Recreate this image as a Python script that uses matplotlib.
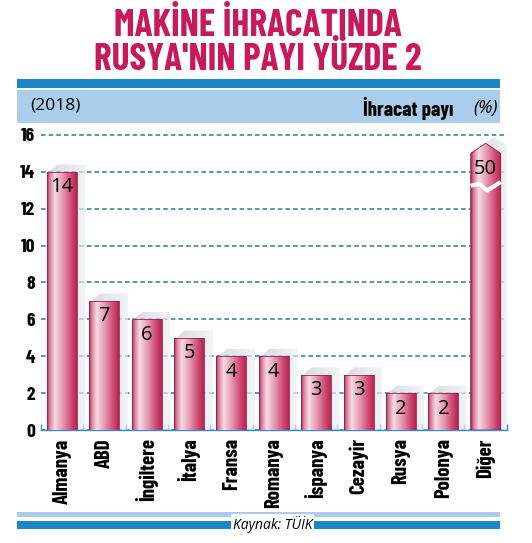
import numpy as np
import matplotlib
matplotlib.use("Agg")
import matplotlib.pyplot as plt
from matplotlib.colors import LinearSegmentedColormap
from matplotlib.patches import Polygon, Rectangle

countries = ["Almanya", "ABD", "İngiltere", "İtalya", "Fransa", "Romanya",
             "İspanya", "Cezayir", "Rusya", "Polonya", "Diğer"]
shares = [14, 7, 6, 5, 4, 4, 3, 3, 2, 2, 50]
yticks = [0, 2, 4, 6, 8, 10, 12, 14, 16]

CAP = 15.0   # the "Diğer" bar is cut off here
TIP = 0.55

narrow = ["Barlow Condensed", "DejaVu Sans"]
plain = ["Open Sans", "DejaVu Sans"]
crimson = "#c8195a"
dark_blue = "#1b86c8"
light_blue = "#aacdeb"
grid_blue = "#1b7ea6"

fig = plt.figure(figsize=(5.32, 5.43), dpi=100)

# title + header bands
fig.text(0.485, 0.953, "MAKİNE İHRACATINDA", ha="center", va="center",
         fontsize=27, fontweight=700, color=crimson, family=narrow)
fig.text(0.485, 0.891, "RUSYA'NIN PAYI YÜZDE 2", ha="center", va="center",
         fontsize=27, fontweight=700, color=crimson, family=narrow)
fig.add_artist(Rectangle((0.032, 0.838), 0.908, 0.017, transform=fig.transFigure,
                         color=dark_blue, lw=0))
fig.add_artist(Rectangle((0.032, 0.773), 0.908, 0.061, transform=fig.transFigure,
                         color=light_blue, lw=0))
fig.text(0.056, 0.806, "(2018)", ha="left", va="center", fontsize=12.5, family=plain)
fig.text(0.852, 0.801, "İhracat payı", ha="right", va="center", fontsize=15,
         fontweight=700, family=narrow)
fig.text(0.936, 0.802, "(%)", ha="right", va="center", fontsize=13,
         style="italic", family=plain)

# footer
fig.add_artist(Rectangle((0.032, 0.0479), 0.908, 0.0092, transform=fig.transFigure,
                         color=light_blue, lw=0))
fig.add_artist(Rectangle((0.032, 0.0258), 0.908, 0.0147, transform=fig.transFigure,
                         color=dark_blue, lw=0))
fig.text(0.513, 0.034, "Kaynak: TÜİK", ha="center", va="center", fontsize=10,
         style="italic", family=plain,
         bbox=dict(facecolor="white", edgecolor="none", pad=1.2))

ax = fig.add_axes([0.0767, 0.2081, 0.876, 0.5535])

x = np.arange(len(countries))
shown = [min(v, CAP) for v in shares]
bars = ax.bar(x, shown, width=0.71, color="#c8406a", lw=0, zorder=3)

cmap = LinearSegmentedColormap.from_list("bar", [
    (0.0, "#a8224c"), (0.08, "#d57a98"), (0.25, "#f6dbe4"),
    (0.5, "#e59cb3"), (0.8, "#cc4570"), (1.0, "#ad204b")])
grad = np.linspace(0, 1, 256).reshape(1, -1)
shade = LinearSegmentedColormap.from_list("shade", ["#c4cbd0", "#eef1f3"])

for b, v in zip(bars, shares):
    x0 = b.get_x()
    w = b.get_width()
    x1 = x0 + w
    h = b.get_height()
    cut = v > CAP
    top = h + TIP if cut else h
    if cut:
        outline = [(x0, 0), (x0, h), (x0 + w / 2, top), (x1, h), (x1, 0)]
        shadow = [(x0, h), (x0 + w / 2 + 0.2, top + 0.35), (x1 + 0.2, h + 0.35),
                  (x1 + 0.2, 0), (x1, 0), (x1, h)]
    else:
        outline = [(x0, 0), (x0, h), (x1, h), (x1, 0)]
        shadow = [(x0 + 0.05, h), (x0 + 0.25, h + 0.4), (x1 + 0.2, h + 0.4),
                  (x1 + 0.2, 0), (x1, 0), (x1, h)]
    sh = Polygon(shadow, closed=True, facecolor="none", lw=0, zorder=2)
    ax.add_patch(sh)
    sim = ax.imshow(grad, cmap=shade, extent=[x0, x1 + 0.2, 0, top + 0.4],
                    aspect="auto", alpha=0.7, zorder=2)
    sim.set_clip_path(sh)
    shape = Polygon(outline, closed=True, facecolor="none", edgecolor="#a31d47",
                    lw=0.6, zorder=5)
    ax.add_patch(shape)
    im = ax.imshow(grad, cmap=cmap, extent=[x0, x1, 0, top], aspect="auto",
                   zorder=4)
    im.set_clip_path(shape)
    ax.annotate(str(v), (x0 + w / 2, h), xytext=(0, -4), textcoords="offset points",
                ha="center", va="top", fontsize=14.5, family=plain, zorder=6)
    if cut:
        ax.plot([x0, x0 + 0.3 * w, x0 + 0.55 * w, x1], [13.25, 13.35, 12.98, 13.45],
                color="white", lw=3, zorder=6, solid_capstyle="butt")

ax.set_xlim(-0.5, 10.5)
ax.set_ylim(0, 16.3)
ax.set_yticks(yticks)
ax.yaxis.grid(True, color=grid_blue, linestyle=(0, (3, 2)), lw=1.1)
ax.set_axisbelow(True)
for s in ["top", "right", "left"]:
    ax.spines[s].set_visible(False)
ax.spines["bottom"].set_color("#2a93cc")
ax.spines["bottom"].set_linewidth(1)

ax.tick_params(axis="y", length=0, pad=4)
for lbl in ax.get_yticklabels():
    lbl.set_fontsize(14)
    lbl.set_fontweight(700)
    lbl.set_family(narrow)

ax.set_xticks(x)
ax.set_xticklabels(countries, rotation=90, fontsize=15, fontweight=700,
                   family=narrow)
ax.tick_params(axis="x", which="major", length=0, pad=6)
ax.set_xticks(np.arange(-0.5, len(countries)), minor=True)
ax.tick_params(axis="x", which="minor", direction="in", length=4,
               color="#2a93cc", width=1)

fig.savefig("out.png", dpi=100)
